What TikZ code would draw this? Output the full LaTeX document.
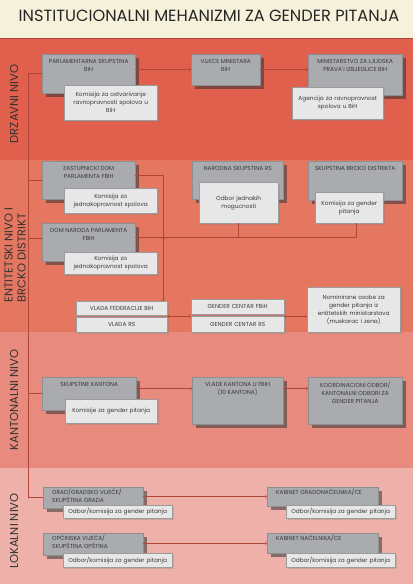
\documentclass[tikz,border=0pt]{standalone}
\usepackage{fontspec}
\setmainfont{Poppins}
\usepackage{xcolor}
\usepackage{tikz}
\usetikzlibrary{shadows,calc}
\definecolor{naslovbg}{HTML}{F6F1DA}
\definecolor{drzavnibg}{HTML}{E0604D}
\definecolor{entitetbg}{HTML}{E57660}
\definecolor{kantonbg}{HTML}{E88B7E}
\definecolor{lokalbg}{HTML}{EEB1A9}
\definecolor{sivakutija}{HTML}{A9ABAE}
\definecolor{sivarub}{HTML}{8C8E91}
\definecolor{svijetlakutija}{HTML}{E7E7E7}
\definecolor{svijetlarub}{HTML}{9C9C9C}
\definecolor{tekstsiva}{HTML}{3A3A3A}
\definecolor{linijacrvena}{HTML}{B0463A}
\newcommand{\kutijafont}{\fontsize{5.8}{8}\selectfont}
\newcommand{\nivofont}{\fontsize{11.5}{13}\selectfont}
\newcommand{\naslovfont}{\fontsize{16.2}{18}\selectfont}
\begin{document}
\begin{tikzpicture}[
    x=1pt, y=-1pt, % 像素坐标, y 向下
    gbox/.style={draw=sivarub, fill=sivakutija, anchor=north west, inner sep=0pt,
        drop shadow={shadow xshift=3.5pt, shadow yshift=-3.5pt, opacity=0.55, fill=black!80}},
    lbox/.style={draw=svijetlarub, fill=svijetlakutija, anchor=north west, inner sep=1pt,
        align=center, font=\kutijafont, text=tekstsiva,
        drop shadow={shadow xshift=1.5pt, shadow yshift=-1.5pt, opacity=0.3}},
    btxt/.style={anchor=north, yshift=-4pt, align=center, font=\kutijafont, text=tekstsiva, inner sep=1pt},
    ltxt/.style={anchor=north west, xshift=8pt, yshift=-1pt, align=left, font=\kutijafont, text=tekstsiva, inner sep=1pt},
    conn/.style={draw=linijacrvena, line width=0.5pt},
    nivo/.style={rotate=90, font=\nivofont, text=black!80, align=left, inner sep=0pt},
]
\useasboundingbox (0,0) rectangle (413,584);
% 背景色带
\fill[naslovbg] (0,0) rectangle (413,38);
\fill[drzavnibg] (0,38) rectangle (413,160);
\fill[entitetbg] (0,160) rectangle (413,332);
\fill[kantonbg] (0,332) rectangle (413,468);
\fill[lokalbg] (0,468) rectangle (413,584);
\draw[linijacrvena, line width=0.8pt] (0,38.4) -- (413,38.4);

% 标题和层级
\node[font=\naslovfont, text=black!85] (naslov) at (209,16) {INSTITUCIONALNI MEHANIZMI ZA GENDER PITANJA};
\node[nivo] (drzavni) at (14,104) {DRZAVNI NIVO};
\node[nivo] (entitetski) at (15,255) {ENTITETSKI NIVO I\\BRCKO DISTRIKT};
\node[nivo] (kantonalni) at (14,400) {KANTONALNI NIVO};
\node[nivo] (lokalni) at (14,531) {LOKALNI NIVO};

% 国家层级
\node[gbox, minimum width=93pt, minimum height=39pt,
    label={[btxt]north:PARLAMENTARNA SKUPSTINA\\BiH}] (parl) at (42,54) {};
\node[lbox, text width=91pt, minimum height=35pt] (parlkom) at (64,85)
    {Komisija za ostvarivanje\\ravnopravnosti spolova u\\BiH};
\node[gbox, minimum width=69pt, minimum height=31pt,
    label={[btxt]north:VIJECE MINISTARA\\BiH}] (vijece) at (191,54) {};
\node[gbox, minimum width=94pt, minimum height=41pt,
    label={[btxt]north:MINISTARSTVO ZA LJUDSKA\\PRAVA I IZBJEGLICE BiH}] (minist) at (308,54) {};
\node[lbox, text width=89pt, minimum height=32pt] (agencija) at (292,87)
    {Agencija za ravnopravnost\\spolova u BiH};

% 实体层级
\node[gbox, minimum width=93pt, minimum height=38pt,
    label={[btxt]north:ZASTUPNICKI DOM\\PARLAMENTA FBIH}] (zast) at (42,161) {};
\node[lbox, text width=91pt, minimum height=25pt] (zastkom) at (64,188)
    {Komisija za\\jednakopravnost spolova};
\node[gbox, minimum width=93pt, minimum height=38pt,
    label={[btxt]north:DOM NARODA PARLAMENTA\\FBIH}] (domnar) at (42,223) {};
\node[lbox, text width=91pt, minimum height=22pt] (domnarkom) at (64,252)
    {Komisija za\\jednakopravnost spolova};
\node[gbox, minimum width=91pt, minimum height=38pt,
    label={[btxt]north:NARODNA SKUPSTINA RS}] (nsrs) at (192,161) {};
\node[lbox, text width=77pt, minimum height=41pt] (odbor) at (199,182)
    {Odbor jednakih\\mogucnosti};
\node[gbox, minimum width=94pt, minimum height=39pt,
    label={[btxt]north:SKUPSTINA BRCKO DISTRIKTA}] (brcko) at (308,161) {};
\node[lbox, text width=66pt, minimum height=31pt] (brckokom) at (315,192)
    {Komisija za gender\\pitanja};
\node[lbox, text width=89pt, minimum height=14pt] (vladafed) at (76,301) {VLADA FEDERACIJE BiH};
\node[lbox, text width=89pt, minimum height=15pt] (vladars) at (76,317) {VLADA RS};
\node[lbox, text width=91pt, minimum height=15pt] (gcfbih) at (191,299) {GENDER CENTAR FBiH};
\node[lbox, text width=91pt, minimum height=16pt] (gcrs) at (191,316) {GENDER CENTAR RS};
\node[lbox, text width=91pt, minimum height=45pt] (nomin) at (307,287)
    {Nominirane osobe za\\gender pitanja iz\\entitetskih ministarstava\\(muskarac i zena)};

% 州层级
\node[gbox, minimum width=94pt, minimum height=33pt,
    label={[btxt]north:SKUPSTINE KANTONA}] (skkant) at (42,377) {};
\node[lbox, text width=90pt, minimum height=24pt] (skkantkom) at (65,399) {Komisije za gender pitanja};
\node[gbox, minimum width=91pt, minimum height=47pt,
    label={[btxt]north:VLADE KANTONA U FBIH\\(10 KANTONA)}] (vladekant) at (192,377) {};
\node[gbox, minimum width=94pt, minimum height=47pt,
    label={[btxt]north:KOORDINACIONI ODBOR/\\KANTONALNI ODBORI ZA\\GENDER PITANJA}] (koord) at (308,377) {};

% 地方层级
\node[gbox, minimum width=100pt, minimum height=21pt,
    label={[ltxt]north west:GRAD/GRADSKO VIJEĆE/\\SKUPŠTINA GRADA}] (grad) at (43,487) {};
\node[lbox, text width=107pt, minimum height=13pt] (gradodb) at (63,505) {Odbor/komisija za gender pitanja};
\node[gbox, minimum width=111pt, minimum height=19pt,
    label={[ltxt]north west:KABINET GRADONAČELNIKA/CE}] (kabgrad) at (267,487) {};
\node[lbox, text width=107pt, minimum height=13pt] (kabgradodb) at (286,505) {Odbor/komisija za gender pitanja};
\node[gbox, minimum width=100pt, minimum height=22pt,
    label={[ltxt]north west:OPĆINSKA VIJEĆA/\\SKUPŠTINA OPŠTINA}] (opcina) at (43,533) {};
\node[lbox, text width=107pt, minimum height=14pt] (opcinaodb) at (63,553) {Odbor/komisija za gender pitanja};
\node[gbox, minimum width=111pt, minimum height=20pt,
    label={[ltxt]north west:KABINET NAČELNIKA/CE}] (kabnac) at (267,533) {};
\node[lbox, text width=107pt, minimum height=14pt] (kabnacodb) at (286,553) {Odbor/komisija za gender pitanja};

% 左侧主线
\coordinate (kicma) at (28,0);
\draw[conn] (parl.west) -- (parl.west -| kicma) -- (grad.west -| kicma) -- (grad.west);
\draw[conn] (zast.west) -- (zast.west -| kicma);
\draw[conn] ([yshift=4pt]domnar.west) -- +(-14,0);
\draw[conn] (skkant.west) -- (skkant.west -| kicma);

% 连接线
\draw[conn,->] (parl.east |- vijece.west) -- (vijece.west);
\draw[conn,->] (vijece.east) -- (minist.west |- vijece.east);

\coordinate (fedlinija) at (163,0);
\coordinate (rslinija) at ([yshift=5pt]domnar.east);
\draw[conn,->] ([yshift=5pt]zast.east) -| (vladafed.north -| fedlinija);
\draw[conn] (rslinija) -| ([xshift=7pt]brckokom.south);
\draw[conn] (odbor.south) -- (odbor.south |- rslinija);
\draw[conn,<-] (fedlinija |- rslinija) -- ++(0,9);

\coordinate (vladalinija) at ($(vladafed.south east)!0.5!(vladars.north east)$);
\draw[conn,<->] (vladalinija) -- (vladalinija -| gcfbih.west);
\draw[conn,<->] (vladalinija -| gcfbih.east) -- (vladalinija -| nomin.west);

\coordinate (kantlinija) at ([yshift=5pt]skkant.east);
\draw[conn,<->] (kantlinija) -- (kantlinija -| vladekant.west);
\draw[conn,<->] (kantlinija -| vladekant.east) -- (kantlinija -| koord.west);

\draw[conn,->] (grad.east |- kabgrad.west) -- (kabgrad.west);
\draw[conn,->] (opcina.east |- kabnac.west) -- (kabnac.west);
\end{tikzpicture}
\end{document}
